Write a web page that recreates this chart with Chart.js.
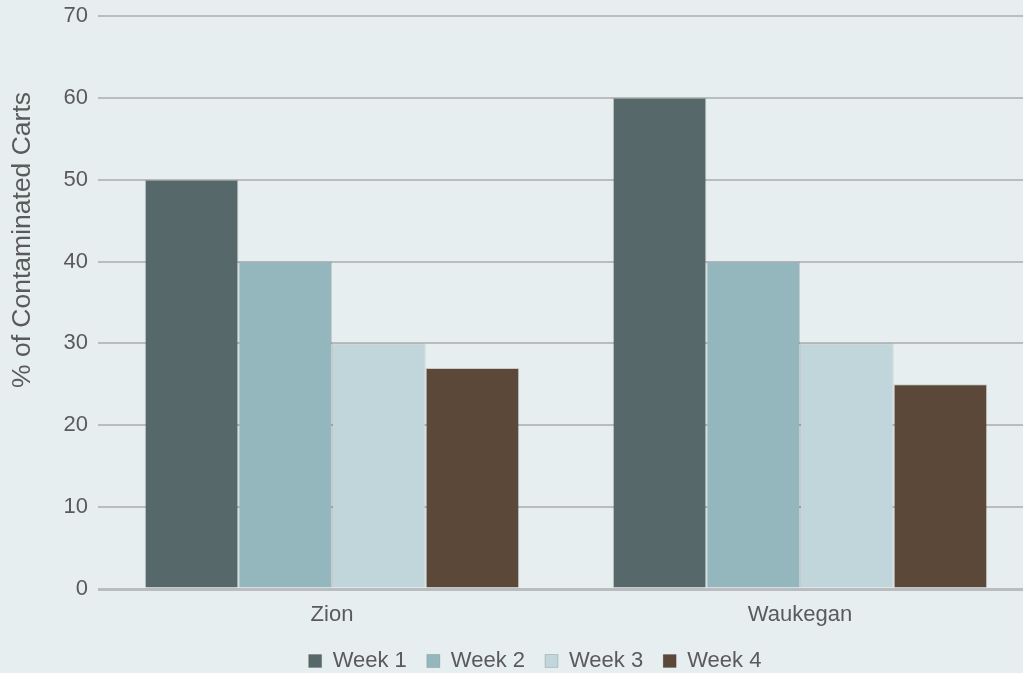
<!DOCTYPE html>
<html>
<head>
<meta charset="utf-8">
<script src="https://cdn.jsdelivr.net/npm/chart.js@4"></script>
<style>
  html, body { margin: 0; padding: 0; overflow: hidden; background: #e7eef0; }
  canvas { display: block; }
</style>
</head>
<body>
<canvas id="cartsChart" width="1040" height="682"></canvas>
<script>
const categories = ["Zion", "Waukegan"];
const week1 = [50, 60];
const week2 = [40, 40];
const week3 = [30, 30];
const week4 = [27, 25];
const yTicks = [0, 10, 20, 30, 40, 50, 60, 70];
const yTitle = "% of Contaminated Carts";

const textColor = "#5a5a5a";
const fontFamily = "'Liberation Sans', Arial, sans-serif";

// axis title sits above centre in the original, so draw it ourselves
const sideTitle = {
  id: "sideTitle",
  afterDraw(chart) {
    const ctx = chart.ctx;
    ctx.save();
    ctx.translate(23, 240);
    ctx.rotate(-Math.PI / 2);
    ctx.font = "26.5px " + fontFamily;
    ctx.fillStyle = textColor;
    ctx.textAlign = "center";
    ctx.textBaseline = "middle";
    ctx.fillText(yTitle, 0, 0);
    ctx.restore();
  }
};

function bar(label, data, color) {
  return {
    label,
    data,
    backgroundColor: color,
    borderColor: "rgba(0,0,0,0.14)",
    borderWidth: 1,
    categoryPercentage: 0.8,
    barPercentage: 1.0
  };
}

const ctx = document.getElementById("cartsChart").getContext("2d");

new Chart(ctx, {
  type: "bar",
  data: {
    labels: categories,
    datasets: [
      bar("Week 1", week1, "#56686a"),
      bar("Week 2", week2, "#94b7be"),
      bar("Week 3", week3, "#c0d6db"),
      bar("Week 4", week4, "#5c4838")
    ]
  },
  options: {
    responsive: false,
    animation: false,
    layout: {
      padding: { left: 36, right: 6, top: 16, bottom: 0 }
    },
    plugins: {
      legend: {
        position: "bottom",
        labels: {
          boxWidth: 13,
          boxHeight: 13,
          padding: 20,
          color: textColor,
          font: { size: 22, family: fontFamily }
        }
      },
      tooltip: { enabled: false }
    },
    scales: {
      x: {
        grid: { display: false },
        border: { display: false },
        ticks: {
          color: textColor,
          padding: 5,
          font: { size: 22, family: fontFamily }
        },
        afterFit: (scale) => { scale.height = 41; }
      },
      y: {
        min: 0,
        max: 70,
        afterBuildTicks: (scale) => {
          scale.ticks = yTicks.map((v) => ({ value: v }));
        },
        grid: {
          color: "#b9bdbf",
          lineWidth: (c) => (c.tick && c.tick.value === 0 ? 3 : 2),
          drawTicks: false
        },
        border: { display: false },
        ticks: {
          color: textColor,
          padding: 10,
          font: { size: 22, family: fontFamily }
        },
        afterFit: (scale) => {
          scale.width = 62;
          scale.paddingTop = 0;
          scale.paddingBottom = 0;
        }
      }
    }
  },
  plugins: [sideTitle]
});
</script>
</body>
</html>
